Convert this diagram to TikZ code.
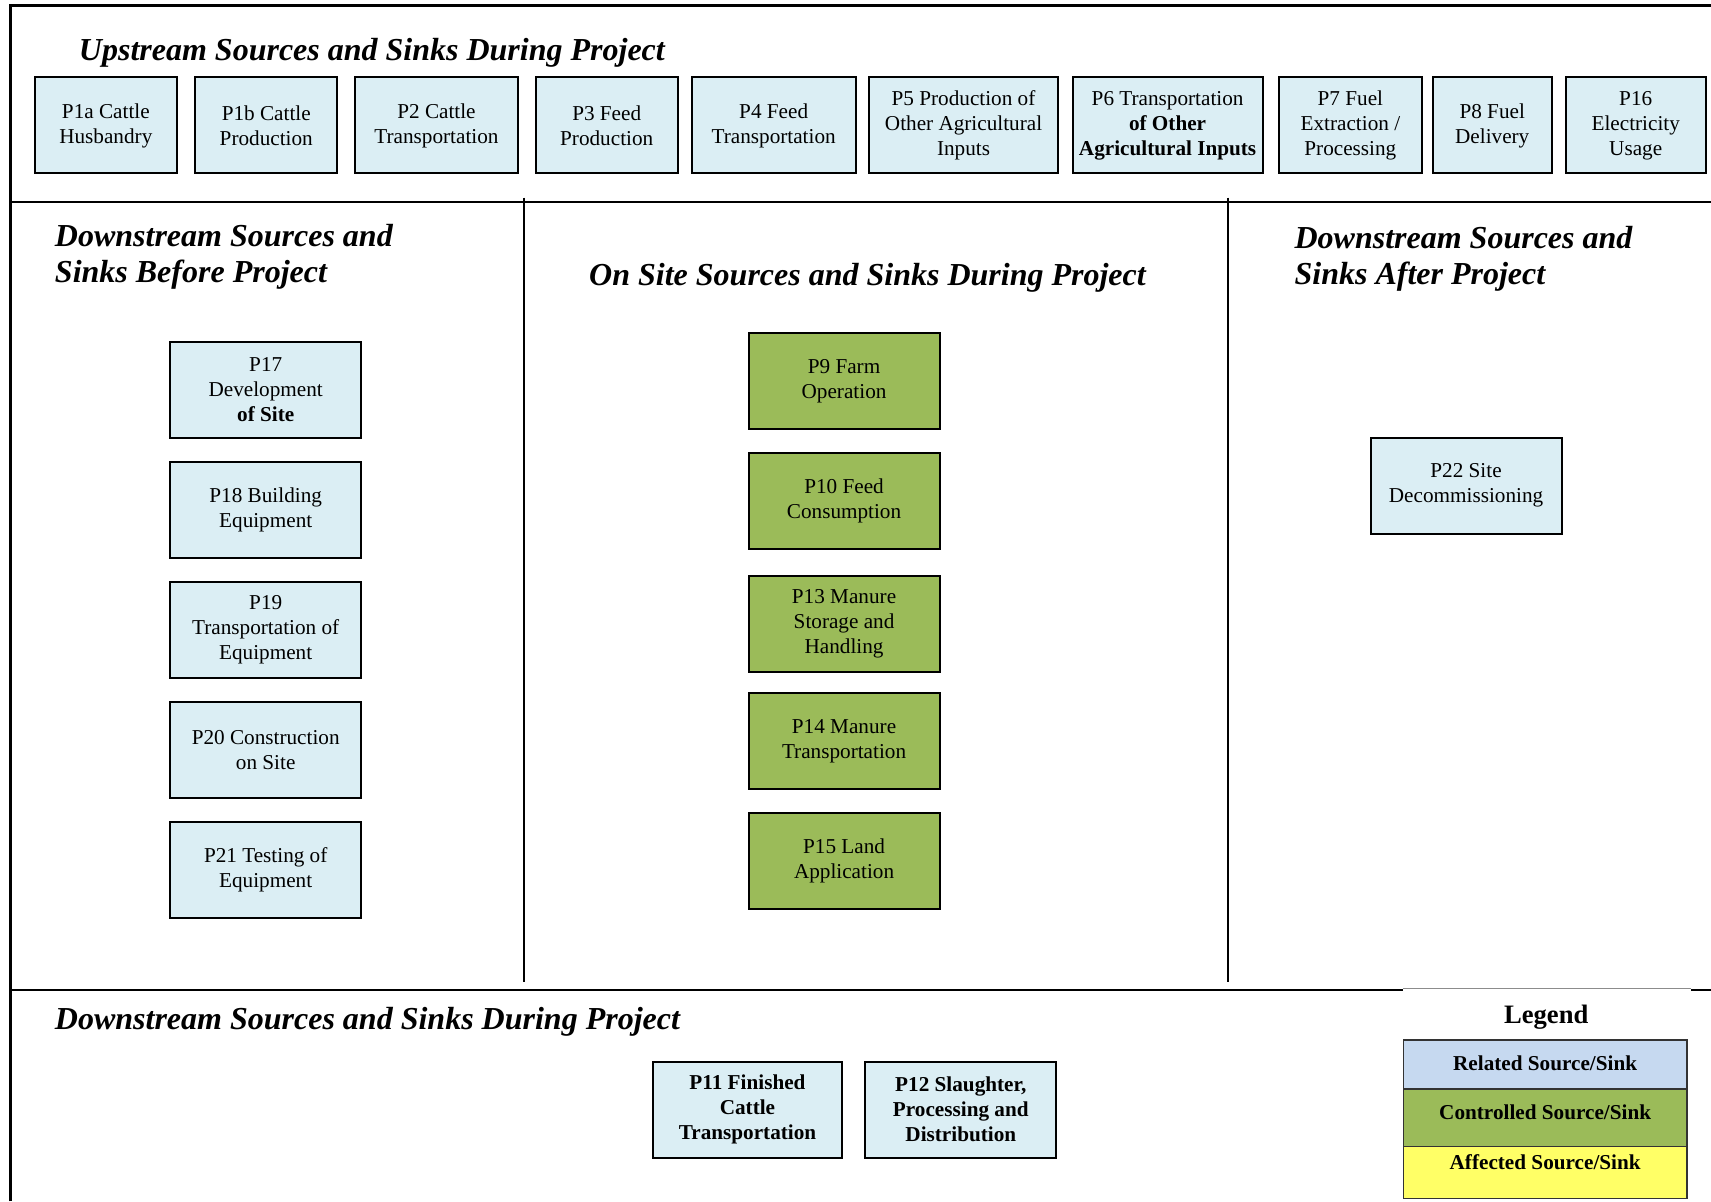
\documentclass[tikz,border=0pt]{standalone}
\usepackage{fontspec}
\setmainfont{Liberation Serif}
\newcommand\pxu{0.5456pt}
\definecolor{boxblue}{HTML}{DBEEF4}
\definecolor{boxgreen}{HTML}{9BBB59}
\definecolor{legblue}{HTML}{C6D9F0}
\definecolor{legyellow}{HTML}{FFFF66}
\tikzset{
  box/.style={draw=black, line width=1pt, fill=boxblue, align=center, inner sep=0pt,
    minimum height=88*\pxu, font=\fontsize{10.6}{12.5}\selectfont},
  gbox/.style={box, fill=boxgreen},
  sectitle/.style={inner sep=0pt, align=left, font=\fontsize{16}{18}\selectfont\bfseries\itshape},
  frame/.style={line width=1pt, black},
  legrow/.style={draw=black!80, line width=0.6pt},
  legtext/.style={inner sep=0pt, font=\fontsize{10.6}{12.5}\selectfont\bfseries},
}
\begin{document}
\begin{tikzpicture}[x=0.5456pt, y=-0.5456pt]
\useasboundingbox (0,0) rectangle (1568,1101);
\fill[white] (0,0) rectangle (1568,1101);
% frame lines
\coordinate (tl) at (10,5);
\coordinate (tr) at (1568,5);
\coordinate (bl) at (10,1101);
\draw[frame, line width=1.5pt] (bl) -- (tl) -- (tr);
\coordinate (h1l) at (10,185);
\coordinate (h1r) at (1568,185);
\draw[frame] (h1l) -- (h1r);
\coordinate (v1t) at (480,181);
\coordinate (v1b) at (480,900);
\coordinate (v2t) at (1125,181);
\coordinate (v2b) at (1125,900);
\draw[frame] (v1t) -- (v1b);
\draw[frame] (v2t) -- (v2b);
\coordinate (h2l) at (10,907);
\coordinate (h2r) at (1568,907);
\draw[frame] (h2l) -- (h2r);

% titles
\node[sectitle, anchor=west] (tup) at (72,48) {Upstream Sources and Sinks During Project};
\node[sectitle, anchor=west] (tbefore) at (50,235) {Downstream Sources and\\Sinks Before Project};
\node[sectitle] (tonsite) at (795,255) {On Site Sources and Sinks During Project};
\node[sectitle, anchor=west] (tafter) at (1186,237) {Downstream Sources and\\Sinks After Project};
\node[sectitle, anchor=west] (tduring) at (50,936) {Downstream Sources and Sinks During Project};

% upstream row
\node[box, minimum width=130*\pxu] (p1a) at (97,115) {P1a Cattle\\Husbandry};
\node[box, minimum width=130*\pxu] (p1b) at (244,115) {P1b Cattle\\Production};
\node[box, minimum width=150*\pxu] (p2) at (400,115) {P2 Cattle\\Transportation};
\node[box, minimum width=130*\pxu] (p3) at (556,115) {P3 Feed\\Production};
\node[box, minimum width=150*\pxu] (p4) at (709,115) {P4 Feed\\Transportation};
\node[box, minimum width=174*\pxu] (p5) at (883,115) {P5 Production of\\Other Agricultural\\Inputs};
\node[box, minimum width=174*\pxu] (p6) at (1070,115) {P6 Transportation\\\textbf{of Other}\\\textbf{Agricultural Inputs}};
\node[box, minimum width=131*\pxu] (p7) at (1237.5,115) {P7 Fuel\\Extraction /\\Processing};
\node[box, minimum width=109*\pxu] (p8) at (1367.5,115) {P8 Fuel\\Delivery};
\node[box, minimum width=128*\pxu] (p16) at (1499,115) {P16\\Electricity\\Usage};

% before project
\node[box, minimum width=175*\pxu] (p17) at (243.5,357) {P17\\Development\\\textbf{of Site}};
\node[box, minimum width=175*\pxu] (p18) at (243.5,467) {P18 Building\\Equipment};
\node[box, minimum width=175*\pxu] (p19) at (243.5,577) {P19\\Transportation of\\Equipment};
\node[box, minimum width=175*\pxu] (p20) at (243.5,687) {P20 Construction\\on Site};
\node[box, minimum width=175*\pxu] (p21) at (243.5,797) {P21 Testing of\\Equipment};

% on site
\node[gbox, minimum width=175*\pxu] (p9) at (773.5,349) {P9 Farm\\Operation};
\node[gbox, minimum width=175*\pxu] (p10) at (773.5,459) {P10 Feed\\Consumption};
\node[gbox, minimum width=175*\pxu] (p13) at (773.5,572) {P13 Manure\\Storage and\\Handling};
\node[gbox, minimum width=175*\pxu] (p14) at (773.5,679) {P14 Manure\\Transportation};
\node[gbox, minimum width=175*\pxu] (p15) at (773.5,789) {P15 Land\\Application};

% after project
\node[box, minimum width=175*\pxu] (p22) at (1343.5,445) {P22 Site\\Decommissioning};

% downstream during
\node[box, minimum width=174*\pxu, font=\fontsize{10.6}{12.5}\selectfont\bfseries] (p11) at (685,1017) {P11 Finished\\Cattle\\Transportation};
\node[box, minimum width=175*\pxu, font=\fontsize{10.6}{12.5}\selectfont\bfseries] (p12) at (880.5,1017) {P12 Slaughter,\\Processing and\\Distribution};

% legend
\fill[white] (1286,905) rectangle (1550,1101);
\draw[black!45, line width=0.5pt] (1286,906) -- (1550,906);
\node[inner sep=0pt, font=\fontsize{13.3}{15}\selectfont\bfseries] (legend) at (1417,932) {Legend};
\draw[legrow, fill=legblue] (1286,953) rectangle (1546,998);
\draw[legrow, fill=boxgreen] (1286,998) rectangle (1546,1051);
\draw[legrow, fill=legyellow] (1286,1051) rectangle (1546,1098);
\node[legtext] (lrel) at (1416,974) {Related Source/Sink};
\node[legtext] (lcon) at (1416,1019) {Controlled Source/Sink};
\node[legtext] (laff) at (1416,1065) {Affected Source/Sink};
\end{tikzpicture}
\end{document}
